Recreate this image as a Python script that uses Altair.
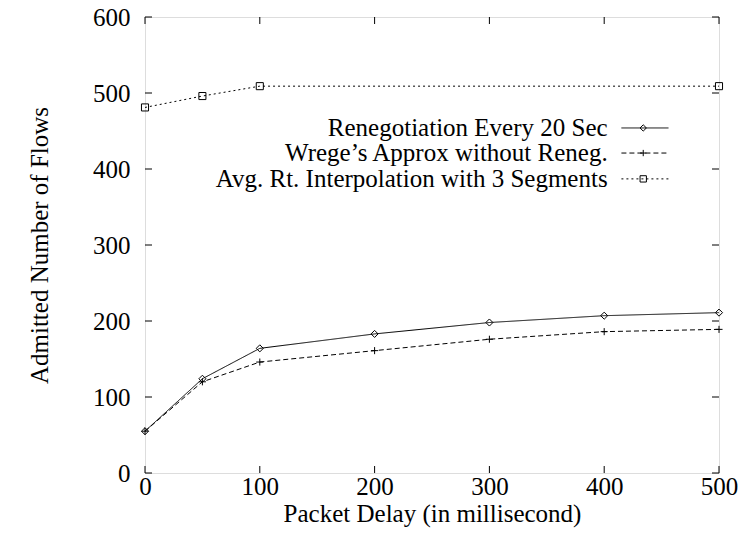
import altair as alt
import pandas as pd

# ---- data ----
delay = [0, 50, 100, 200, 300, 400, 500]
reneg = [55, 124, 164, 183, 198, 207, 211]
wrege = [55, 120, 146, 161, 176, 186, 189]
avg_x = [0, 50, 100, 500]
avg_y = [481, 496, 509, 509]

series_names = [
    "Renegotiation Every 20 Sec",
    "Wrege\u2019s Approx without Reneg.",
    "Avg. Rt. Interpolation with 3 Segments",
]
x_ticks = [0, 100, 200, 300, 400, 500]
y_ticks = [0, 100, 200, 300, 400, 500, 600]

# legend placement (in data units)
legend_text_x = 403
legend_line_x1 = 415
legend_line_x2 = 456
legend_point_x = 434
legend_rows_y = [454, 421, 387]

FONT = "Liberation Serif"
FS = 25
W, H = 574, 456

rows = []
for x, y in zip(delay, reneg):
    rows.append({"series": series_names[0], "x": x, "y": y})
for x, y in zip(delay, wrege):
    rows.append({"series": series_names[1], "x": x, "y": y})
for x, y in zip(avg_x, avg_y):
    rows.append({"series": series_names[2], "x": x, "y": y})
df = pd.DataFrame(rows)

leg = pd.DataFrame({
    "series": series_names,
    "lx": [legend_text_x] * 3,
    "x1": [legend_line_x1] * 3,
    "x2": [legend_line_x2] * 3,
    "px": [legend_point_x] * 3,
    "ly": legend_rows_y,
})

xscale = alt.Scale(domain=[0, 500], nice=False, zero=False)
yscale = alt.Scale(domain=[0, 600], nice=False, zero=False)

xaxis = alt.Axis(values=x_ticks, ticks=False, grid=False, domain=False,
                 labelFont=FONT, labelFontSize=FS, labelColor="black",
                 labelPadding=1, labelFlush=False,
                 title="Packet Delay (in millisecond)", titleFont=FONT,
                 titleFontSize=FS, titleFontWeight="normal", titleColor="black",
                 titlePadding=2)
yaxis = alt.Axis(values=y_ticks, ticks=False, grid=False, domain=False,
                 labelFont=FONT, labelFontSize=FS, labelColor="black",
                 labelPadding=15, labelFlush=False,
                 title="Admitted Number of Flows", titleFont=FONT,
                 titleFontSize=FS, titleFontWeight="normal", titleColor="black",
                 titlePadding=40)

dash_scale = alt.Scale(domain=series_names, range=[[1, 0], [5, 3], [2, 3]])
shape_scale = alt.Scale(domain=series_names,
                        range=["diamond", "M-1,0L1,0M0,-1L0,1", "square"])

X = alt.X("x:Q", scale=xscale, axis=xaxis)
Y = alt.Y("y:Q", scale=yscale, axis=yaxis)

lines = alt.Chart(df).mark_line(color="black", strokeWidth=1).encode(
    x=X, y=Y,
    detail="series:N",
    strokeDash=alt.StrokeDash("series:N", scale=dash_scale, legend=None),
)
points = alt.Chart(df).mark_point(color="black", filled=False, strokeWidth=1,
                                  size=50, opacity=1).encode(
    x=X, y=Y,
    shape=alt.Shape("series:N", scale=shape_scale, legend=None),
)

# inward mirror ticks
xt = pd.DataFrame({"x": x_ticks})
yt = pd.DataFrame({"y": y_ticks})
tick_b = alt.Chart(xt).mark_rule(color="black", strokeWidth=1).encode(
    x=X, y=alt.value(H), y2=alt.value(H - 7))
tick_t = alt.Chart(xt).mark_rule(color="black", strokeWidth=1).encode(
    x=X, y=alt.value(0), y2=alt.value(7))
tick_l = alt.Chart(yt).mark_rule(color="black", strokeWidth=1).encode(
    y=Y, x=alt.value(0), x2=alt.value(7))
tick_r = alt.Chart(yt).mark_rule(color="black", strokeWidth=1).encode(
    y=Y, x=alt.value(W), x2=alt.value(W - 7))

# legend
LX = alt.X("lx:Q", scale=xscale, axis=xaxis)
LY = alt.Y("ly:Q", scale=yscale, axis=yaxis)
leg_text = alt.Chart(leg).mark_text(align="right", baseline="middle",
                                    font=FONT, fontSize=FS, color="black").encode(
    x=LX, y=LY, text="series:N")
leg_line = alt.Chart(leg).mark_rule(color="black", strokeWidth=1).encode(
    x=alt.X("x1:Q", scale=xscale, axis=xaxis), x2="x2:Q", y=LY,
    strokeDash=alt.StrokeDash("series:N", scale=dash_scale, legend=None))
leg_pt = alt.Chart(leg).mark_point(color="black", filled=False, strokeWidth=1,
                                   size=40, opacity=1).encode(
    x=alt.X("px:Q", scale=xscale, axis=xaxis), y=LY,
    shape=alt.Shape("series:N", scale=shape_scale, legend=None))

chart = alt.layer(
    tick_b, tick_t, tick_l, tick_r, lines, points, leg_line, leg_pt, leg_text
).properties(
    width=W, height=H,
    autosize=alt.AutoSizeParams(type="none"),
    padding={"left": 137, "top": 9, "right": 19, "bottom": 62},
).configure_view(
    stroke="black", strokeWidth=1
).configure(background="white")

chart.save("out.html", embed_options={"renderer": "svg", "actions": False})
